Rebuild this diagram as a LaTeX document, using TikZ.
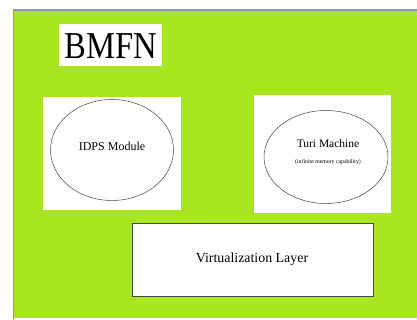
\documentclass[tikz,border=0pt]{standalone}
\usepackage{fontspec}
\setmainfont{Liberation Serif}
\usetikzlibrary{shapes.geometric,calc}
\definecolor{limebg}{RGB}{168,230,32}
\definecolor{framegray}{RGB}{150,150,150}
\definecolor{inkgray}{RGB}{70,70,70}
\begin{document}
\begin{tikzpicture}[x=1pt,y=-1pt,
  panel/.style={fill=white,draw=none,inner sep=0pt,anchor=north west},
  oval/.style={ellipse,draw=inkgray,line width=0.5pt,fill=white,inner sep=0pt},
  label/.style={inner sep=0pt,text=black}]
  \useasboundingbox (0,0) rectangle (417,320);
  \fill[white] (0,0) rectangle (417,320);
  % green backdrop with a light frame on the left and top
  \fill[limebg] (14,10) rectangle (417,318);
  \draw[framegray,line width=1.2pt] (13.5,320) -- (13.5,10) -- (417,10);

  % title plate
  \node[panel,minimum width=103pt,minimum height=42pt] (titlebox) at (59,24) {};
  \node[label,font=\fontsize{38}{40}\selectfont,xscale=0.86] (title) at ($(titlebox.center)+(0,1)$) {BMFN};

  % IDPS panel
  \node[panel,minimum width=138pt,minimum height=113pt] (idpsbox) at (43,97) {};
  \node[oval,minimum width=123pt,minimum height=101pt] (idps) at (112,150) {};
  \node[label,font=\fontsize{12}{14}\selectfont] (idpstext) at (112,146) {IDPS Module};

  % Turi machine panel
  \node[panel,minimum width=137pt,minimum height=118pt] (turibox) at (254,95) {};
  \node[oval,minimum width=124pt,minimum height=93pt] (turi) at (326,157) {};
  \node[label,font=\fontsize{11.5}{13}\selectfont] (turitext) at (328,144) {Turi Machine};
  \node[label,font=\fontsize{5.8}{7}\selectfont] (turisub) at (328,162) {(infinite memory capability)};

  % virtualization layer
  \node[panel,draw=inkgray,line width=0.6pt,minimum width=241pt,minimum height=73pt] (virt) at (132,223) {};
  \node[label,font=\fontsize{13.9}{16}\selectfont] (virttext) at (252,259) {Virtualization Layer};
\end{tikzpicture}
\end{document}
